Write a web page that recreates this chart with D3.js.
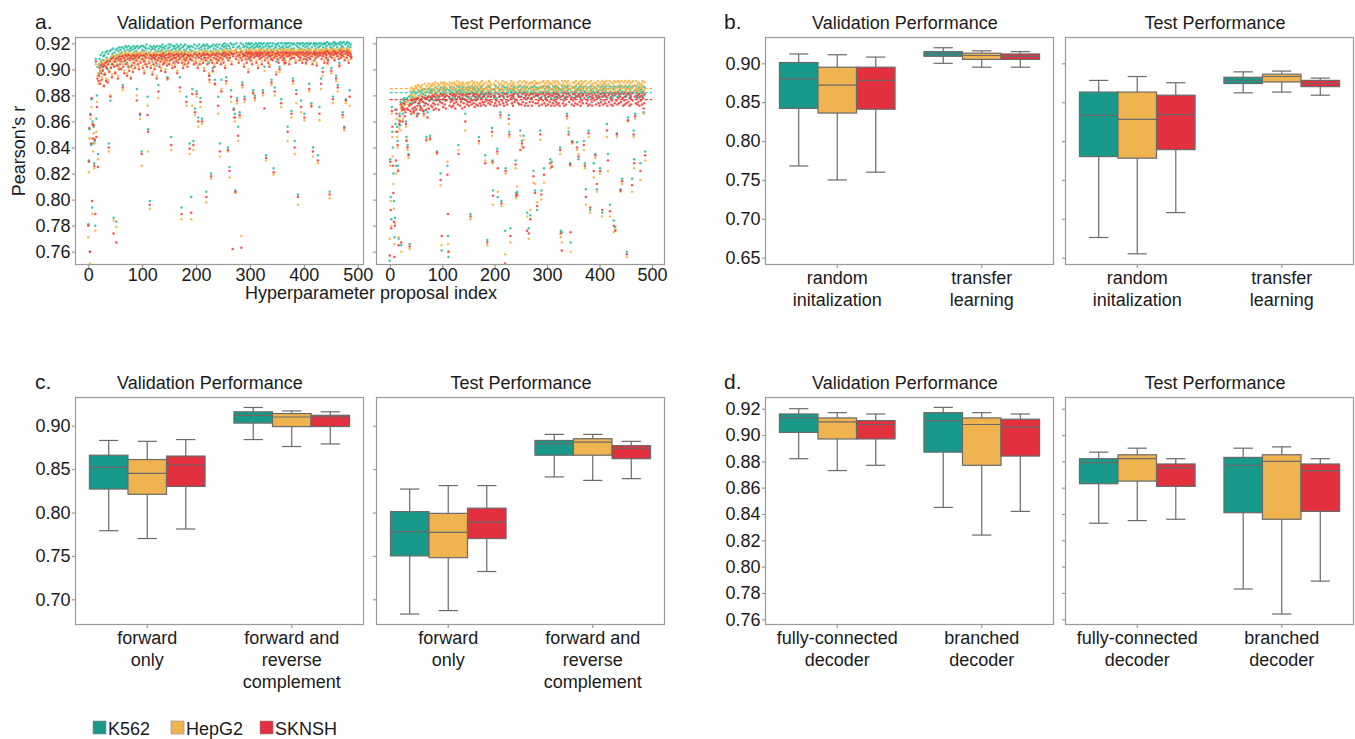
<!DOCTYPE html>
<html><head><meta charset="utf-8">
<script src="https://cdn.jsdelivr.net/npm/d3@7"></script>
<style>
body{margin:0;background:#fff;}
svg{display:block;font-family:"Liberation Sans",Arial,Helvetica,sans-serif;}
</style></head><body>
<svg id="fig" width="1355" height="739"></svg>
<script>
// ---------- cell lines ----------
const cellLines = ["K562", "HepG2", "SKNSH"];
const boxColors = ["#18998a", "#efb44f", "#e2303e"];
const dotColors = ["#25bba0", "#f4b03c", "#ef3a35"];
const refLineColors = ["#3fcfc0", "#f5b445", "#f03a3a"];

// ---------- a. hyperparameter search: Pearson's r per proposal ----------
const valK562 = [
.781,.830,.854,.760,.866,.842,.877,.794,.860,.843,
.856,.828,.845,.780,.908,.862,.880,.902,.835,.897,
.904,.908,.899,.911,.906,.902,.913,.907,.910,.896,
.911,.905,.913,.902,.909,.914,.900,.912,.843,.907,
.914,.876,.909,.915,.904,.912,.916,.786,.910,.913,
.906,.915,.783,.911,.916,.903,.914,.909,.917,.912,
.915,.908,.913,.917,.888,.911,.916,.906,.914,.918,
.912,.917,.905,.915,.911,.918,.909,.914,.916,.902,
.917,.911,.915,.908,.918,.913,.916,.910,.917,.914,
.885,.918,.912,.916,.909,.917,.865,.913,.918,.837,
.915,.910,.918,.914,.907,.917,.912,.916,.919,.911,
.879,.854,.916,.913,.799,.918,.910,.915,.917,.906,
.916,.912,.918,.909,.915,.917,.913,.903,.918,.914,
.888,.916,.911,.918,.914,.909,.917,.915,.919,.912,
.917,.913,.916,.908,.918,.914,.911,.894,.916,.919,
.912,.917,.914,.919,.848,.915,.910,.918,.913,.916,
.918,.911,.916,.914,.919,.907,.917,.913,.918,.915,
.894,.916,.919,.794,.913,.917,.910,.918,.915,.912,
.919,.914,.879,.916,.911,.918,.913,.917,.843,.915,
.918,.802,.914,.885,.917,.845,.912,.919,.870,.916,
.913,.883,.918,.910,.863,.916,.919,.912,.878,.917,
.915,.862,.918,.913,.919,.909,.916,.918,.914,.806,
.919,.912,.916,.918,.905,.895,.917,.914,.820,.918,
.913,.901,.919,.916,.911,.892,.918,.915,.919,.913,
.917,.879,.914,.919,.843,.916,.912,.892,.918,.915,
.919,.913,.917,.920,.910,.918,.894,.916,.919,.840,
.914,.918,.825,.916,.920,.884,.912,.919,.745,.917,
.870,.919,.866,.807,.915,.920,.878,.917,.856,.913,
.918,.867,.916,.920,.745,.914,.890,.919,.917,.911,
.879,.918,.915,.920,.913,.917,.919,.908,.920,.916,
.919,.914,.917,.920,.912,.918,.884,.916,.919,.880,
.917,.920,.913,.918,.919,.910,.917,.920,.915,.918,
.920,.916,.912,.919,.884,.917,.920,.902,.914,.918,
.834,.919,.916,.920,.913,.918,.910,.917,.920,.915,
.892,.918,.914,.920,.824,.916,.886,.919,.917,.906,
.919,.915,.920,.913,.918,.902,.916,.920,.877,.917,
.920,.914,.918,.916,.908,.920,.913,.919,.917,.920,
.856,.917,.920,.912,.918,.915,.920,.868,.916,.919,
.893,.920,.916,.845,.919,.913,.884,.918,.920,.804,
.917,.920,.914,.919,.916,.876,.920,.913,.918,.920,
.915,.866,.919,.917,.908,.920,.914,.918,.920,.916,
.889,.919,.915,.920,.874,.917,.912,.840,.919,.920,
.914,.918,.920,.916,.911,.919,.834,.917,.920,.871,
.918,.920,.893,.915,.919,.901,.917,.920,.913,.919,
.920,.916,.918,.921,.908,.914,.919,.920,.806,.917,
.919,.901,.916,.920,.879,.918,.921,.914,.919,.920,
.895,.919,.917,.888,.920,.915,.905,.919,.921,.916,
.918,.920,.867,.917,.921,.856,.914,.919,.877,.920,
.916,.921,.918,.913,.920,.884,.917,.919,.910];

const valHepG2 = [
.771,.821,.847,.751,.862,.847,.871,.789,.857,.837,
.851,.824,.843,.776,.904,.852,.875,.895,.831,.889,
.897,.903,.891,.905,.899,.894,.906,.900,.904,.888,
.905,.897,.907,.893,.903,.908,.892,.906,.837,.899,
.908,.880,.902,.910,.896,.906,.911,.784,.903,.908,
.898,.910,.779,.905,.911,.895,.909,.902,.912,.906,
.910,.901,.908,.912,.884,.904,.911,.899,.909,.913,
.906,.912,.897,.910,.904,.913,.901,.909,.911,.894,
.912,.905,.910,.900,.913,.907,.911,.903,.912,.909,
.880,.913,.906,.911,.902,.912,.862,.907,.913,.826,
.910,.903,.913,.908,.899,.912,.906,.911,.914,.904,
.872,.837,.911,.907,.793,.913,.903,.910,.912,.898,
.911,.906,.913,.902,.910,.912,.907,.895,.913,.909,
.878,.911,.904,.913,.908,.901,.912,.910,.914,.906,
.912,.907,.911,.900,.913,.909,.905,.892,.911,.914,
.906,.912,.909,.914,.838,.910,.903,.913,.907,.911,
.913,.904,.911,.908,.914,.899,.912,.907,.913,.910,
.883,.911,.914,.785,.907,.912,.903,.913,.910,.906,
.914,.909,.872,.911,.904,.913,.907,.912,.835,.910,
.913,.785,.909,.872,.912,.838,.906,.914,.865,.911,
.907,.879,.913,.903,.856,.911,.914,.906,.871,.912,
.910,.858,.913,.907,.914,.901,.911,.913,.909,.798,
.914,.906,.911,.913,.897,.890,.912,.909,.816,.913,
.907,.898,.914,.911,.904,.888,.913,.910,.914,.907,
.912,.866,.909,.914,.833,.911,.906,.885,.913,.910,
.914,.907,.912,.915,.903,.913,.889,.911,.914,.837,
.909,.913,.817,.911,.915,.875,.906,.914,.742,.912,
.863,.914,.860,.805,.910,.915,.874,.912,.845,.907,
.913,.863,.911,.915,.772,.909,.886,.914,.912,.904,
.875,.913,.910,.915,.907,.912,.914,.900,.915,.911,
.914,.909,.912,.915,.906,.913,.881,.911,.914,.876,
.912,.915,.907,.913,.914,.903,.912,.915,.910,.913,
.915,.911,.906,.914,.880,.912,.915,.899,.909,.913,
.830,.914,.911,.915,.907,.913,.904,.912,.915,.910,
.888,.913,.909,.915,.819,.911,.880,.914,.912,.898,
.914,.910,.915,.907,.913,.898,.911,.915,.871,.912,
.915,.909,.913,.911,.904,.915,.907,.914,.912,.915,
.845,.912,.915,.906,.913,.910,.915,.863,.911,.914,
.889,.915,.911,.835,.914,.907,.874,.913,.915,.796,
.912,.915,.909,.914,.911,.867,.915,.907,.913,.915,
.910,.861,.914,.912,.904,.915,.909,.913,.915,.911,
.883,.914,.910,.915,.871,.912,.906,.833,.914,.915,
.909,.913,.915,.911,.905,.914,.828,.912,.915,.861,
.913,.915,.885,.910,.914,.895,.912,.915,.907,.914,
.915,.911,.913,.916,.904,.909,.914,.915,.801,.912,
.914,.897,.911,.915,.874,.913,.916,.909,.914,.915,
.891,.914,.912,.883,.915,.910,.902,.914,.916,.911,
.913,.915,.863,.912,.916,.853,.909,.914,.874,.915,
.911,.916,.913,.907,.915,.872,.912,.914,.908];

const valSKNSH = [
.780,.829,.855,.760,.865,.843,.878,.799,.858,.847,
.857,.826,.846,.789,.906,.848,.871,.893,.825,.891,
.895,.901,.889,.903,.897,.892,.904,.899,.902,.887,
.903,.896,.905,.891,.901,.906,.890,.904,.840,.898,
.906,.879,.901,.908,.894,.904,.909,.774,.902,.906,
.897,.908,.767,.903,.909,.893,.907,.900,.910,.904,
.908,.900,.906,.910,.886,.902,.909,.897,.907,.911,
.904,.910,.895,.908,.902,.911,.899,.907,.909,.893,
.910,.903,.908,.898,.911,.905,.909,.901,.910,.907,
.876,.911,.904,.909,.900,.910,.866,.905,.911,.835,
.908,.901,.911,.906,.897,.910,.904,.909,.912,.902,
.865,.852,.909,.905,.796,.911,.901,.908,.910,.896,
.909,.904,.911,.900,.908,.910,.905,.893,.911,.907,
.883,.909,.902,.911,.906,.899,.910,.908,.912,.904,
.910,.905,.909,.898,.911,.907,.903,.893,.909,.912,
.904,.910,.907,.912,.842,.908,.901,.911,.905,.909,
.911,.902,.909,.906,.912,.897,.910,.905,.911,.908,
.886,.909,.912,.789,.905,.910,.901,.911,.908,.904,
.912,.907,.875,.909,.902,.911,.905,.910,.839,.908,
.911,.790,.907,.881,.910,.842,.904,.912,.867,.909,
.905,.881,.911,.901,.860,.909,.912,.904,.875,.910,
.908,.860,.911,.905,.912,.899,.909,.911,.907,.802,
.912,.904,.909,.911,.895,.892,.910,.907,.818,.911,
.905,.899,.912,.909,.902,.889,.911,.908,.912,.905,
.910,.872,.907,.912,.837,.909,.904,.883,.911,.908,
.912,.905,.910,.913,.901,.911,.891,.909,.912,.838,
.907,.911,.822,.909,.913,.879,.904,.912,.762,.910,
.869,.912,.863,.806,.908,.913,.876,.910,.849,.905,
.911,.865,.909,.913,.763,.907,.888,.912,.910,.902,
.877,.911,.908,.913,.905,.910,.912,.898,.913,.909,
.912,.907,.910,.913,.904,.911,.882,.909,.912,.878,
.910,.913,.905,.911,.912,.901,.910,.913,.908,.911,
.913,.909,.904,.912,.882,.910,.913,.870,.907,.911,
.832,.912,.909,.913,.905,.911,.902,.910,.913,.908,
.890,.911,.907,.913,.821,.909,.883,.912,.910,.896,
.912,.908,.913,.905,.911,.900,.909,.913,.874,.910,
.913,.907,.911,.909,.905,.913,.905,.912,.910,.913,
.852,.910,.913,.904,.911,.908,.913,.866,.909,.912,
.891,.913,.909,.840,.912,.905,.881,.911,.913,.802,
.910,.913,.907,.912,.909,.871,.913,.905,.911,.913,
.908,.863,.912,.910,.905,.913,.907,.911,.913,.909,
.885,.912,.908,.913,.872,.910,.904,.837,.912,.913,
.907,.911,.913,.909,.903,.912,.830,.910,.913,.866,
.911,.913,.889,.908,.912,.898,.910,.913,.905,.912,
.913,.909,.911,.914,.905,.907,.912,.913,.804,.910,
.912,.899,.909,.913,.877,.911,.914,.907,.912,.913,
.893,.912,.910,.886,.913,.908,.903,.912,.914,.909,
.911,.913,.865,.910,.914,.855,.907,.912,.876,.913,
.909,.914,.911,.905,.913,.879,.910,.912,.909];

const testK562 = [
.753,.831,.802,.785,.871,.852,.840,.820,.799,.771,
.786,.858,.826,.869,.856,.845,.826,.770,.861,.866,
.857,.875,.765,.874,.871,.866,.877,.876,.878,.873,
.875,.860,.848,.878,.842,.876,.835,.879,.766,.874,
.880,.873,.878,.882,.876,.879,.870,.883,.875,.881,
.877,.882,.866,.878,.884,.874,.880,.883,.872,.876,
.882,.877,.884,.875,.881,.868,.878,.885,.880,.874,
.848,.883,.867,.879,.885,.876,.882,.849,.884,.878,
.883,.877,.885,.880,.876,.884,.879,.886,.878,.882,
.837,.885,.879,.883,.876,.884,.881,.820,.886,.761,
.880,.885,.877,.883,.886,.879,.884,.876,.882,.885,
.826,.772,.756,.884,.878,.886,.881,.883,.877,.885,
.882,.878,.886,.880,.884,.877,.885,.881,.883,.887,
.879,.842,.884,.886,.878,.883,.881,.885,.877,.884,
.886,.880,.883,.877,.866,.885,.882,.879,.886,.881,
.884,.878,.886,.881,.789,.883,.879,.887,.882,.885,
.880,.886,.877,.884,.882,.879,.886,.883,.878,.885,
.848,.884,.880,.886,.878,.883,.887,.881,.884,.879,
.885,.881,.834,.878,.886,.882,.769,.884,.880,.887,
.882,.886,.879,.884,.881,.855,.830,.807,.885,.878,
.884,.880,.887,.882,.878,.839,.802,.886,.881,.884,
.879,.867,.885,.799,.882,.887,.880,.884,.878,.886,
.776,.824,.881,.886,.879,.884,.882,.865,.852,.885,
.778,.883,.887,.880,.885,.878,.884,.886,.881,.883,
.830,.805,.882,.806,.886,.880,.884,.879,.887,.853,
.884,.879,.845,.886,.881,.849,.883,.887,.878,.885,
.880,.886,.790,.883,.878,.778,.885,.881,.788,.886,
.883,.878,.886,.881,.822,.884,.887,.807,.880,.885,
.886,.792,.880,.885,.882,.878,.886,.853,.883,.807,
.879,.886,.882,.887,.824,.880,.885,.883,.878,.886,
.882,.887,.879,.884,.886,.881,.831,.885,.878,.829,
.885,.880,.887,.882,.878,.886,.884,.881,.887,.879,
.883,.886,.880,.885,.878,.840,.776,.884,.775,.887,
.880,.885,.882,.878,.887,.883,.879,.886,.866,.884,
.887,.852,.881,.885,.828,.767,.883,.879,.845,.886,
.882,.878,.886,.883,.880,.887,.884,.844,.879,.885,
.831,.886,.881,.884,.878,.887,.882,.885,.880,.886,
.845,.883,.828,.887,.808,.880,.885,.882,.878,.853,
.886,.879,.792,.884,.887,.881,.878,.885,.883,.828,
.882,.886,.835,.879,.885,.808,.883,.887,.880,.884,
.878,.824,.886,.881,.884,.790,.887,.879,.885,.882,
.886,.880,.884,.887,.858,.878,.835,.885,.881,.887,
.796,.883,.879,.886,.882,.878,.885,.784,.887,.880,
.779,.886,.882,.851,.879,.887,.883,.880,.886,.884,
.808,.881,.887,.816,.883,.878,.886,.882,.879,.887,
.884,.880,.760,.886,.863,.881,.887,.878,.885,.883,
.879,.886,.816,.882,.887,.853,.831,.884,.866,.880,
.887,.883,.879,.885,.881,.886,.878,.884,.828,.882,
.885,.879,.887,.883,.867,.880,.886,.837];

const testHepG2 = [
.770,.826,.799,.780,.866,.848,.833,.812,.793,.766,
.782,.852,.820,.862,.848,.840,.823,.771,.855,.861,
.853,.870,.760,.868,.873,.862,.873,.872,.874,.869,
.870,.856,.846,.875,.838,.873,.832,.876,.762,.880,
.883,.877,.886,.880,.884,.878,.866,.885,.881,.887,
.879,.886,.870,.882,.888,.878,.884,.887,.875,.880,
.886,.881,.888,.879,.885,.864,.883,.889,.882,.878,
.845,.887,.870,.883,.889,.880,.886,.846,.888,.882,
.887,.881,.889,.884,.880,.888,.883,.890,.882,.886,
.835,.889,.883,.887,.880,.888,.885,.811,.890,.765,
.884,.889,.881,.887,.890,.883,.888,.880,.886,.889,
.829,.766,.760,.888,.882,.890,.885,.887,.881,.889,
.886,.882,.890,.884,.888,.881,.889,.885,.887,.891,
.883,.838,.888,.890,.882,.887,.885,.889,.881,.888,
.890,.884,.887,.881,.853,.889,.886,.883,.890,.885,
.888,.882,.890,.885,.785,.887,.883,.891,.886,.889,
.884,.890,.881,.888,.886,.883,.890,.887,.882,.889,
.843,.888,.884,.890,.882,.887,.891,.885,.888,.883,
.889,.885,.830,.882,.890,.886,.765,.888,.884,.891,
.886,.890,.883,.888,.885,.849,.828,.796,.889,.882,
.888,.884,.891,.886,.882,.835,.806,.890,.885,.888,
.883,.863,.889,.795,.886,.891,.884,.888,.882,.890,
.758,.820,.885,.890,.883,.888,.886,.858,.848,.889,
.767,.887,.891,.884,.889,.882,.888,.890,.885,.887,
.824,.801,.886,.810,.890,.884,.888,.883,.891,.849,
.888,.883,.841,.890,.885,.846,.887,.891,.882,.889,
.884,.890,.787,.887,.882,.770,.889,.885,.792,.890,
.887,.882,.890,.885,.813,.888,.891,.812,.884,.889,
.890,.798,.884,.889,.886,.882,.890,.846,.887,.800,
.883,.890,.886,.891,.813,.884,.889,.887,.882,.890,
.886,.891,.883,.888,.890,.885,.824,.889,.882,.826,
.889,.884,.891,.886,.882,.890,.888,.885,.891,.883,
.887,.890,.884,.889,.882,.835,.771,.888,.767,.891,
.884,.889,.886,.882,.891,.887,.883,.890,.862,.888,
.891,.855,.885,.889,.826,.760,.887,.883,.843,.890,
.886,.882,.890,.887,.884,.891,.888,.838,.883,.889,
.835,.890,.885,.888,.882,.891,.886,.889,.884,.890,
.838,.887,.824,.891,.796,.884,.889,.886,.882,.848,
.890,.883,.790,.888,.891,.885,.882,.889,.887,.817,
.886,.890,.832,.883,.889,.806,.887,.891,.884,.888,
.882,.820,.890,.885,.888,.787,.891,.883,.889,.886,
.890,.884,.888,.891,.848,.882,.822,.889,.885,.891,
.787,.887,.883,.890,.886,.882,.889,.775,.891,.884,
.777,.890,.886,.848,.883,.891,.887,.884,.890,.888,
.806,.885,.891,.812,.887,.882,.890,.886,.883,.891,
.888,.884,.756,.890,.860,.885,.891,.882,.889,.887,
.883,.890,.806,.886,.891,.848,.824,.888,.862,.884,
.891,.887,.883,.889,.885,.890,.882,.888,.815,.886,
.889,.883,.891,.887,.866,.884,.890,.830];

const testSKNSH = [
.757,.829,.792,.778,.868,.856,.826,.805,.783,.756,
.780,.869,.830,.866,.852,.842,.822,.765,.858,.864,
.860,.873,.767,.871,.869,.860,.870,.874,.869,.864,
.867,.858,.845,.870,.840,.869,.834,.872,.764,.868,
.873,.866,.876,.870,.874,.867,.868,.877,.871,.875,
.869,.877,.864,.872,.878,.866,.874,.876,.869,.871,
.877,.870,.879,.868,.875,.866,.872,.878,.874,.869,
.846,.878,.863,.873,.879,.870,.876,.847,.879,.872,
.878,.871,.880,.874,.869,.879,.873,.881,.870,.876,
.836,.880,.873,.877,.869,.879,.875,.815,.881,.772,
.874,.880,.871,.877,.881,.873,.879,.870,.876,.880,
.819,.789,.760,.879,.872,.881,.875,.877,.871,.880,
.876,.872,.881,.874,.879,.870,.880,.875,.877,.882,
.873,.835,.879,.881,.872,.877,.875,.880,.870,.878,
.881,.874,.877,.871,.860,.880,.876,.873,.881,.875,
.879,.872,.881,.875,.787,.877,.873,.882,.876,.880,
.874,.881,.871,.879,.876,.873,.881,.877,.872,.880,
.845,.879,.874,.881,.872,.877,.882,.875,.879,.873,
.880,.875,.828,.872,.881,.876,.767,.879,.874,.882,
.876,.881,.873,.879,.875,.852,.829,.803,.880,.872,
.879,.874,.882,.876,.872,.837,.824,.881,.875,.879,
.873,.865,.880,.797,.876,.882,.874,.879,.872,.881,
.751,.822,.875,.881,.873,.879,.876,.862,.850,.880,
.772,.878,.882,.874,.880,.872,.879,.881,.875,.877,
.827,.803,.876,.804,.881,.874,.879,.873,.882,.838,
.879,.873,.843,.881,.875,.840,.878,.882,.872,.880,
.874,.881,.776,.878,.872,.774,.880,.875,.785,.881,
.878,.872,.881,.875,.818,.879,.882,.805,.874,.880,
.881,.795,.874,.880,.876,.872,.881,.850,.878,.804,
.873,.881,.876,.882,.819,.874,.880,.878,.872,.881,
.876,.882,.873,.879,.881,.875,.828,.880,.872,.825,
.880,.874,.882,.876,.872,.881,.879,.875,.882,.873,
.878,.881,.874,.880,.872,.838,.774,.879,.761,.882,
.874,.880,.876,.872,.882,.878,.873,.881,.864,.879,
.882,.850,.875,.880,.827,.775,.878,.873,.844,.881,
.876,.872,.881,.878,.874,.882,.879,.840,.873,.880,
.833,.881,.875,.879,.872,.882,.876,.880,.874,.881,
.842,.878,.826,.882,.802,.874,.880,.876,.872,.851,
.881,.873,.794,.879,.882,.875,.872,.880,.878,.822,
.876,.881,.834,.873,.880,.812,.878,.882,.874,.879,
.872,.822,.881,.875,.879,.792,.882,.873,.880,.876,
.881,.874,.879,.882,.853,.872,.830,.880,.875,.882,
.791,.878,.873,.881,.876,.872,.880,.780,.882,.874,
.776,.881,.876,.850,.873,.882,.878,.874,.881,.879,
.807,.875,.882,.814,.878,.872,.881,.876,.873,.882,
.879,.874,.758,.881,.861,.875,.882,.872,.880,.878,
.873,.881,.811,.876,.882,.850,.828,.879,.864,.874,
.882,.878,.873,.880,.875,.881,.872,.879,.822,.876,
.880,.873,.882,.878,.870,.874,.881,.834];

// reference levels on the test set (K562, HepG2, SKNSH) and the index span they cover
const testRefLevels = [0.8821, 0.8852, 0.8767];
const testRefSpan = [0, 500];
const proposalTicks = [0, 100, 200, 300, 400, 500];

// ---------- b./c./d. box summaries: [whisker low, Q1, median, Q3, whisker high] ----------
const initCategories = ["random\ninitalization", "transfer\nlearning"];
const initValK562  = [[.768,.842,.880,.901,.912], [.900,.909,.912,.915,.920]];
const initValHepG2 = [[.750,.836,.872,.895,.911], [.895,.905,.910,.913,.916]];
const initValSKNSH = [[.760,.841,.878,.895,.908], [.895,.905,.909,.912,.915]];
const initTestK562  = [[.676,.780,.833,.863,.878], [.862,.874,.878,.882,.889]];
const initTestHepG2 = [[.655,.778,.828,.863,.883], [.863,.876,.883,.886,.890]];
const initTestSKNSH = [[.708,.789,.834,.859,.875], [.859,.870,.874,.878,.881]];
const initTicks = [0.65, 0.70, 0.75, 0.80, 0.85, 0.90];

const strandCategories = ["forward\nonly", "forward and\nreverse\ncomplement"];
const strandValK562  = [[.779,.827,.852,.866,.883], [.884,.903,.912,.916,.921]];
const strandValHepG2 = [[.770,.821,.845,.861,.882], [.876,.899,.910,.914,.917]];
const strandValSKNSH = [[.781,.830,.855,.865,.884], [.879,.899,.910,.912,.916]];
const strandTestK562  = [[.683,.750,.778,.801,.827], [.841,.866,.879,.883,.890]];
const strandTestHepG2 = [[.687,.748,.777,.799,.831], [.837,.866,.881,.885,.890]];
const strandTestSKNSH = [[.732,.770,.789,.805,.831], [.839,.862,.874,.877,.882]];
const strandTicks = [0.70, 0.75, 0.80, 0.85, 0.90];

const decoderCategories = ["fully-connected\ndecoder", "branched\ndecoder"];
const decoderValK562  = [[.882,.902,.913,.916,.920], [.845,.887,.911,.917,.921]];
const decoderValHepG2 = [[.873,.897,.910,.913,.917], [.824,.877,.908,.913,.917]];
const decoderValSKNSH = [[.877,.897,.908,.911,.916], [.842,.884,.906,.912,.916]];
const decoderTestK562  = [[.833,.863,.879,.882,.887], [.783,.841,.877,.883,.890]];
const decoderTestHepG2 = [[.835,.865,.882,.885,.890], [.764,.836,.880,.885,.891]];
const decoderTestSKNSH = [[.836,.861,.875,.878,.882], [.789,.842,.873,.878,.882]];
const decoderTicks = [0.76, 0.78, 0.80, 0.82, 0.84, 0.86, 0.88, 0.90, 0.92];

const scatterTicks = [0.76, 0.78, 0.80, 0.82, 0.84, 0.86, 0.88, 0.90, 0.92];

// ---------- drawing ----------
const svg = d3.select("#fig");
const FRAME = "#9a9a9a", EDGE = "#6a6a6a", TEXT = "#1a1a1a", FS = 18;
const defs = svg.append("defs");
let clipCount = 0;

function frameBox(f) {
  svg.append("rect").attr("x", f.x0 + 0.5).attr("y", f.y0 + 0.5)
    .attr("width", f.x1 - f.x0 - 1).attr("height", f.y1 - f.y0 - 1)
    .attr("fill", "none").attr("stroke", FRAME).attr("stroke-width", 1.2);
}

function styleAxis(g) {
  g.select(".domain").remove();
  g.selectAll(".tick line").attr("stroke", FRAME).attr("stroke-width", 1.2);
  g.selectAll(".tick text").attr("fill", TEXT).style("font-size", FS + "px")
    .style("font-family", '"Liberation Sans",Arial,sans-serif');
}

function yAxis(f, y, ticks, labels) {
  const g = svg.append("g").attr("transform", `translate(${f.x0},0)`)
    .call(d3.axisLeft(y).tickValues(ticks).tickSize(3).tickPadding(1.5)
      .tickFormat(labels ? d3.format(".2f") : ""));
  styleAxis(g);
}

function title(text, cx, baseline) {
  svg.append("text").attr("x", cx).attr("y", baseline).attr("text-anchor", "middle")
    .attr("fill", TEXT).style("font-size", FS + "px").text(text);
}

function panelLetter(text, x, baseline) {
  svg.append("text").attr("x", x).attr("y", baseline).attr("fill", TEXT)
    .style("font-size", "21px").text(text);
}

function clipFor(f) {
  const id = "clip" + (clipCount++);
  defs.append("clipPath").attr("id", id).append("rect")
    .attr("x", f.x0 + 1).attr("y", f.y0 + 1).attr("width", f.x1 - f.x0 - 2).attr("height", f.y1 - f.y0 - 2);
  return id;
}

function scatterPanel(f, x, y, series, labels, refLevels) {
  frameBox(f);
  yAxis(f, y, scatterTicks, labels);
  const ax = svg.append("g").attr("transform", `translate(0,${f.y1})`)
    .call(d3.axisBottom(x).tickValues(proposalTicks).tickSize(3).tickPadding(0).tickFormat(d3.format("d")));
  styleAxis(ax);
  const g = svg.append("g").attr("clip-path", `url(#${clipFor(f)})`);
  series.forEach((vals, j) => {
    g.append("g").selectAll("circle").data(vals).join("circle")
      .attr("cx", (d, i) => x(i)).attr("cy", d => y(d)).attr("r", 1.25)
      .attr("fill", dotColors[j]).attr("fill-opacity", 0.85);
  });
  if (refLevels) {
    refLevels.forEach((v, j) => {
      g.append("line").attr("x1", x(testRefSpan[0])).attr("x2", x(testRefSpan[1]))
        .attr("y1", y(v)).attr("y2", y(v)).attr("stroke", refLineColors[j])
        .attr("stroke-width", 1.3).attr("stroke-dasharray", "3,2");
    });
  }
}

function boxPanel(f, y, ticks, labels, categories, stats) {
  frameBox(f);
  yAxis(f, y, ticks, labels);
  const xb = d3.scaleBand().domain(categories).range([f.x0, f.x1]).padding(0);
  const ax = svg.append("g").attr("transform", `translate(0,${f.y1})`)
    .call(d3.axisBottom(xb).tickSize(3).tickFormat(""));
  styleAxis(ax);
  categories.forEach(c => {
    const lines = c.split("\n");
    const t = svg.append("text").attr("text-anchor", "middle").attr("fill", TEXT).style("font-size", FS + "px");
    lines.forEach((ln, k) => {
      t.append("tspan").attr("x", xb(c) + xb.bandwidth() / 2).attr("y", f.y1 + 18.5 + k * 22).text(ln);
    });
  });
  const inner = d3.scaleBand().domain(cellLines)
    .range([xb.bandwidth() * 0.1, xb.bandwidth() * 0.9]).padding(0);
  const g = svg.append("g");
  categories.forEach((c, ci) => {
    cellLines.forEach((cl, j) => {
      const [lo, q1, med, q3, hi] = stats[j][ci];
      const bx = xb(c) + inner(cl), w = inner.bandwidth(), cx = bx + w / 2;
      const sw = 1.2;
      g.append("line").attr("x1", cx).attr("x2", cx).attr("y1", y(hi)).attr("y2", y(q3))
        .attr("stroke", EDGE).attr("stroke-width", sw);
      g.append("line").attr("x1", cx).attr("x2", cx).attr("y1", y(q1)).attr("y2", y(lo))
        .attr("stroke", EDGE).attr("stroke-width", sw);
      [lo, hi].forEach(v => g.append("line").attr("x1", cx - w / 4).attr("x2", cx + w / 4)
        .attr("y1", y(v)).attr("y2", y(v)).attr("stroke", EDGE).attr("stroke-width", sw));
      g.append("rect").attr("x", bx).attr("y", y(q3)).attr("width", w)
        .attr("height", Math.max(1, y(q1) - y(q3)))
        .attr("fill", boxColors[j]).attr("stroke", EDGE).attr("stroke-width", sw);
      g.append("line").attr("x1", bx).attr("x2", bx + w).attr("y1", y(med)).attr("y2", y(med))
        .attr("stroke", EDGE).attr("stroke-width", sw);
    });
  });
}

// ---- panel a ----
const aVal = {x0: 75, x1: 364, y0: 37, y1: 265};
const aTest = {x0: 376, x1: 665, y0: 37, y1: 265};
const yA = d3.scaleLinear().domain([0.76, 0.92]).range([251.7, 43.3]);
const xAVal = d3.scaleLinear().domain([0, 500]).range([88.3, 357.7]);
const xATest = d3.scaleLinear().domain([0, 500]).range([389.7, 652]);
scatterPanel(aVal, xAVal, yA, [valK562, valHepG2, valSKNSH], true, null);
scatterPanel(aTest, xATest, yA, [testK562, testHepG2, testSKNSH], false, testRefLevels);
panelLetter("a.", 35, 29);
title("Validation Performance", 210, 29);
title("Test Performance", 521, 29);
svg.append("text").attr("transform", "translate(25,151) rotate(-90)").attr("text-anchor", "middle")
  .attr("fill", TEXT).style("font-size", FS + "px").text("Pearson's r");
svg.append("text").attr("x", 371).attr("y", 299).attr("text-anchor", "middle")
  .attr("fill", TEXT).style("font-size", FS + "px").text("Hyperparameter proposal index");

// ---- panel b ----
const bVal = {x0: 765, x1: 1054, y0: 37, y1: 265};
const bTest = {x0: 1065, x1: 1354, y0: 37, y1: 265};
const yB = d3.scaleLinear().domain([0.65, 0.90]).range([257.7, 63.3]);
boxPanel(bVal, yB, initTicks, true, initCategories, [initValK562, initValHepG2, initValSKNSH]);
boxPanel(bTest, yB, initTicks, false, initCategories, [initTestK562, initTestHepG2, initTestSKNSH]);
panelLetter("b.", 724, 29);
title("Validation Performance", 905, 29);
title("Test Performance", 1215, 29);

// ---- panel c ----
const cVal = {x0: 75, x1: 364, y0: 397, y1: 625};
const cTest = {x0: 376, x1: 665, y0: 397, y1: 625};
const yC = d3.scaleLinear().domain([0.70, 0.90]).range([599.3, 425.7]);
boxPanel(cVal, yC, strandTicks, true, strandCategories, [strandValK562, strandValHepG2, strandValSKNSH]);
boxPanel(cTest, yC, strandTicks, false, strandCategories, [strandTestK562, strandTestHepG2, strandTestSKNSH]);
panelLetter("c.", 35, 389);
title("Validation Performance", 210, 389);
title("Test Performance", 521, 389);

// ---- panel d ----
const dVal = {x0: 765, x1: 1054, y0: 397, y1: 625};
const dTest = {x0: 1065, x1: 1354, y0: 397, y1: 625};
const yD = d3.scaleLinear().domain([0.76, 0.92]).range([619.3, 408.7]);
boxPanel(dVal, yD, decoderTicks, true, decoderCategories, [decoderValK562, decoderValHepG2, decoderValSKNSH]);
boxPanel(dTest, yD, decoderTicks, false, decoderCategories, [decoderTestK562, decoderTestHepG2, decoderTestSKNSH]);
panelLetter("d.", 724, 389);
title("Validation Performance", 905, 389);
title("Test Performance", 1215, 389);

// ---- legend ----
const legendX = [93, 171, 260];
const lg = svg.append("g");
cellLines.forEach((name, j) => {
  lg.append("rect").attr("x", legendX[j]).attr("y", 721).attr("width", 13).attr("height", 13)
    .attr("fill", boxColors[j]).attr("stroke", "#8a8a8a").attr("stroke-width", 0.6);
  lg.append("text").attr("x", legendX[j] + 15).attr("y", 734.5).attr("fill", TEXT)
    .style("font-size", FS + "px").text(name);
});
</script>
</body></html>
